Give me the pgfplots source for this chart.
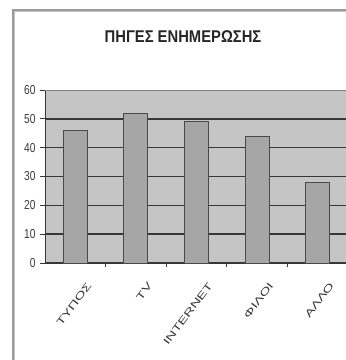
\documentclass[border=0pt]{standalone}
\usepackage{pgfplots}
\pgfplotsset{compat=1.18}
\usepackage{fontspec}
\setmainfont{Liberation Sans}
\definecolor{plotbg}{HTML}{C5C5C5}
\definecolor{barfill}{HTML}{A6A6A6}
\definecolor{baredge}{HTML}{4A4A4A}
\definecolor{gridc}{HTML}{383838}
\definecolor{txt}{HTML}{3A3A3A}
\definecolor{framec}{HTML}{9A9A9A}
\newcommand{\xlab}[1]{\scalebox{1}[0.66]{#1}}
\begin{document}
\begin{tikzpicture}[x=1pt,y=1pt]
\useasboundingbox (0pt,0pt) rectangle (346pt,360pt);
\begin{scope}
\clip (0pt,0pt) rectangle (346pt,360pt);
\fill[white] (0pt,0pt) rectangle (346pt,360pt);
% chart frame
\draw[framec!60, line width=1.2pt] (14.5pt,-10pt) -- (14.5pt,348.5pt) -- (400pt,348.5pt);
\draw[framec, line width=1.2pt] (13pt,-10pt) -- (13pt,350pt) -- (400pt,350pt);
\begin{axis}[
  at={(45pt,97pt)}, anchor=south west,
  scale only axis, width=303pt, height=173pt,
  xmin=-0.5, xmax=4.5, ymin=0, ymax=60,
  axis x line*=bottom, axis y line*=left,
  axis line style={draw=gridc, line width=0.9pt},
  axis background/.style={fill=plotbg},
  ybar, bar width=24pt,
  xtick={0,...,4},
  xticklabels={\xlab{ΤΥΠΟΣ},\xlab{TV},\xlab{INTERNET},\xlab{ΦΙΛΟΙ},\xlab{ΑΛΛΟ}},
  major x tick style={draw=none},
  minor xtick={0.5,1.5,2.5,3.5,4.5},
  minor x tick style={draw=gridc, line width=0.8pt},
  minor tick length=4pt,
  major tick length=5pt,
  tick align=outside,
  ytick={0,10,...,50},
  extra y ticks={60},
  extra y tick style={grid style={line width=0.8pt, color=gray}},
  y tick style={draw=gridc, line width=0.8pt},
  ymajorgrids,
  grid style={line width=1.6pt, color=gridc},
  tick label style={text=txt},
  yticklabel={\scalebox{0.78}[1]{\pgfmathprintnumber{\tick}}},
  yticklabel style={font=\fontsize{13}{14}\selectfont, xshift=-1pt},
  xticklabel style={font=\fontsize{15}{16}\selectfont, rotate=53, anchor=north east, inner sep=0pt, yshift=-17pt, xshift=-4pt},
  /pgf/number format/assume math mode=true,
]
\addplot[fill=barfill, draw=baredge, line width=1pt]
  coordinates {(0,46) (1,52) (2,49) (3,44) (4,28)};
\end{axis}
\node[font=\fontsize{17}{19}\selectfont\bfseries, text=black!85] at (183pt,323pt)
  {\scalebox{0.87}[1]{ΠΗΓΕΣ ΕΝΗΜΕΡΩΣΗΣ}};
\end{scope}
\end{tikzpicture}
\end{document}
